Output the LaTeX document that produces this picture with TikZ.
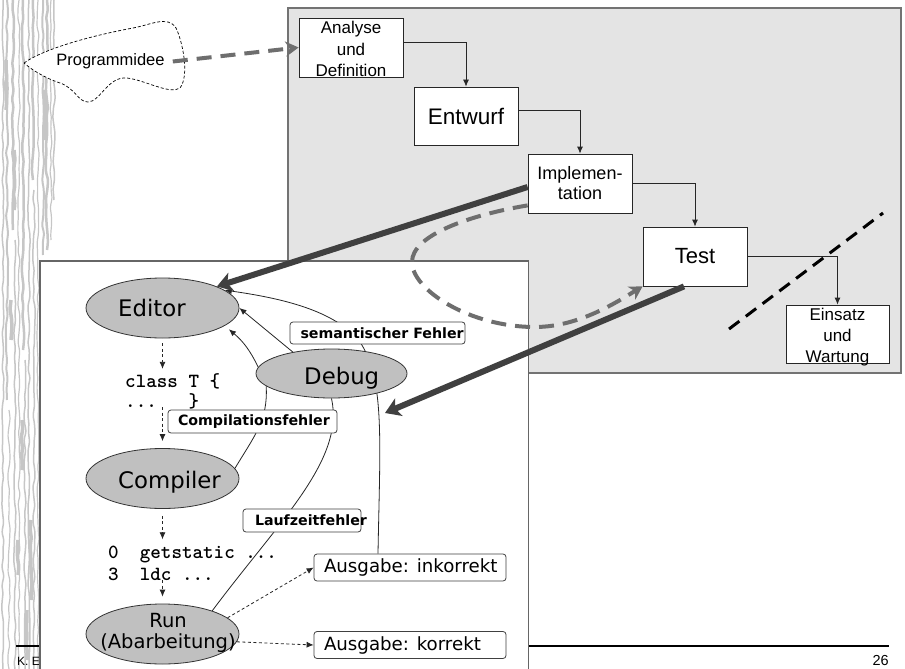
\documentclass[tikz,border=0pt]{standalone}
\usepackage{fontspec}
\setmainfont{Liberation Sans}
\newfontfamily\dvfont{DejaVu Sans}
\newfontfamily\codefont{lmmonolt10-bold.otf}
\usetikzlibrary{arrows.meta,shapes.geometric,decorations.pathmorphing}
\pgfdeclarelayer{back}
\pgfdeclarelayer{edges}
\pgfsetlayers{back,edges,main}

\definecolor{panelgray}{HTML}{E4E4E4}
\definecolor{ellgray}{HTML}{C0C0C0}
\definecolor{thickgray}{HTML}{404040}
\definecolor{dashgray}{HTML}{6E6E6E}
\definecolor{woodgray}{HTML}{C6C6C6}

% fixed-width box, text set flush left after a small indent
\newcommand\padbox[3]{\makebox[#1][l]{\hspace{#2}#3}}

\begin{document}
\begin{tikzpicture}[x=1pt, y=-1pt,
  phasebox/.style={draw=black!85, fill=white, line width=0.8pt, inner sep=0pt, align=center},
  phasetext/.style={inner sep=0pt, align=center},
  flow/.style={draw=black!85, line width=0.8pt, -{Latex[length=7pt,width=6pt]}},
  dflow/.style={draw=black!85, line width=0.8pt, dash pattern=on 3pt off 2.5pt, -{Latex[length=7pt,width=6pt]}},
  thin link/.style={draw=black!85, line width=0.8pt},
  thin arrow/.style={draw=black!85, line width=0.8pt, -{Latex[length=7pt,width=6pt]}},
  bigarrow/.style={draw=thickgray, line width=6pt, -{Stealth[length=15pt,width=19pt,inset=4pt]}},
  grayflow/.style={draw=dashgray, line width=4pt, dash pattern=on 15pt off 9pt, -{Stealth[length=13pt,width=15pt,inset=4pt]}},
  cutline/.style={draw=black, line width=3pt, dash pattern=on 13pt off 8pt},
  cloudline/.style={draw=black, fill=white, line width=0.7pt, dash pattern=on 3pt off 2pt},
  procell/.style={ellipse, draw=black!80, fill=ellgray, line width=0.8pt, inner sep=0pt},
  celltext/.style={inner sep=0pt, font=\dvfont\fontsize{22.8}{26}\selectfont},
  code/.style={inner sep=0pt, anchor=base west, font=\codefont\fontsize{20.1}{22}\selectfont},
  errlabel/.style={draw=black!75, fill=white, rounded corners=3pt, line width=0.8pt, inner sep=0pt, font=\dvfont\bfseries\fontsize{14.2}{16}\selectfont},
  outbox/.style={draw=black!75, fill=white, rounded corners=3pt, line width=0.8pt, inner sep=0pt, minimum height=27pt, font=\dvfont\fontsize{18.2}{21}\selectfont},
  grain/.style={draw=woodgray, decorate, decoration={random steps, segment length=9pt, amplitude=1.2pt}, rounded corners=2.5pt}
]
\useasboundingbox (0,0) rectangle (905,669);

% ---------- background: wood strip, footer, panels ----------
\begin{pgfonlayer}{back}
  \pgfmathsetseed{11}
  \foreach \x/\w/\a/\b in {3/1.5/0/669, 7/2/0/400, 9/1.2/410/669, 13/2.5/0/230, 15/1.5/240/669,
      19/1.2/0/669, 23/2.5/0/350, 25/1.5/360/669, 29/1.5/0/669, 33/2.5/0/180, 34/1.5/190/669,
      38/1.2/0/669, 43/2/0/255, 47/2.5/0/250, 51/1.2/0/240, 54/1.5/0/200} {
    \draw[grain, line width=\w pt] (\x,\a) -- (\x,\b);
  }
  \foreach \x/\a/\b in {6/60/110, 14/150/210, 22/420/470, 31/520/600, 11/300/340, 45/90/140, 27/610/660, 18/540/575} {
    \draw[grain, line width=3.5pt] (\x,\a) -- (\x,\b);
  }

  \draw[line width=1.6pt] (16,646) coordinate (footL) -- (889,646) coordinate (footR);
  \node[anchor=base west, inner sep=0pt, font=\fontsize{12}{14}\selectfont] (author) at (17,665) {K. E};
  \node[anchor=base east, inner sep=0pt, font=\fontsize{14.5}{17}\selectfont] (pageno) at (889,665) {26};

  \draw[draw=black!55, fill=panelgray, line width=1.5pt] (288,8) rectangle (901,373);
  \fill[white] (40,261) rectangle (528.5,669);
  \draw[black!60, line width=1.2pt] (40,669) -- (40,261) -- (528.5,261) -- (528.5,669);
\end{pgfonlayer}

% ---------- the idea cloud ----------
\draw[cloudline] (24,63) .. controls (45,48) and (95,35) .. (133,28)
  .. controls (150,25) and (168,15) .. (176,28)
  .. controls (182,40) and (190,75) .. (180,88)
  .. controls (170,95) and (145,80) .. (127,78)
  .. controls (108,76) and (100,102) .. (88,102)
  .. controls (78,102) and (75,88) .. (60,83)
  .. controls (45,78) and (32,70) .. cycle;
\node[inner sep=0pt, font=\fontsize{16.5}{19}\selectfont] (idea) at (110.5,61.5) {Programmidee};

% ---------- phase boxes ----------
\node[phasebox, minimum width=104pt, minimum height=59pt] (ana) at (351,47.5) {};
\node[phasetext, font=\fontsize{17}{21.5}\selectfont] (anaT) at ([yshift=-1.5pt]ana.center) {Analyse\\und\\Definition};
\node[phasebox, minimum width=104pt, minimum height=58pt, font=\fontsize{22.5}{26}\selectfont] (ent) at (466,116) {Entwurf};
\node[phasebox, minimum width=104pt, minimum height=59pt, font=\fontsize{18}{20}\selectfont] (impl) at (580,183.5) {Implemen-\\tation};
\node[phasebox, minimum width=104pt, minimum height=59pt, font=\fontsize{22}{26}\selectfont] (test) at (695,256.5) {Test};
\node[phasebox, minimum width=103pt, minimum height=58pt] (ein) at (837.5,334) {};
\node[phasetext, font=\fontsize{17}{21}\selectfont] (einT) at ([yshift=-3.5pt]ein.center) {Einsatz\\und\\Wartung};

\draw[flow] ([yshift=5.5pt]ana.east) -| (ent.north);
\draw[flow] ([yshift=6pt]ent.east) -| (impl.north);
\draw[flow] (impl.east) -| (test.north);
\draw[flow] (test.east) -| (ein.north);

\coordinate (cutA) at (729,329);
\coordinate (cutB) at (883,213);
\draw[cutline] (cutA) -- (cutB);

% ---------- edit / compile / run cycle ----------
\node[procell, minimum width=153pt, minimum height=60pt] (editor) at (162.5,308) {};
\node[celltext, anchor=base west] (editorT) at (118,316.5) {Editor};
\node[procell, minimum width=153pt, minimum height=60pt] (comp) at (162.5,478.5) {};
\node[celltext, anchor=base west] (compT) at (118,488) {Compiler};
\node[procell, minimum width=153pt, minimum height=60pt] (run) at (162.5,634) {};
\node[celltext, align=center, font=\dvfont\fontsize{19.5}{21}\selectfont] (runT) at (168,632.5) {Run\\(Abarbeitung)};
\node[procell, minimum width=151pt, minimum height=49pt] (debug) at (331.5,373.5) {};
\node[celltext, anchor=base west] (debugT) at (304,384) {Debug};

\node[code] (code1a) at (125,387) {class T \{};
\node[code] (code1b) at (125,407) {...\ \ \ \}};
\node[code] (code2a) at (108,558) {0\ \ getstatic ...};
\node[code] (code2b) at (108,580) {3\ \ ldc ...};

\node[outbox] (ausgI) at (410,567.5) {\padbox{192pt}{10pt}{Ausgabe: inkorrekt}};
\node[outbox] (ausgK) at (410,645) {\padbox{192pt}{10pt}{Ausgabe: korrekt}};

\node[errlabel, minimum height=22pt] (semErr) at (377.5,333) {\padbox{175pt}{10.5pt}{semantischer Fehler}};
\node[errlabel, minimum height=23pt] (compErr) at (252.5,421.5) {\padbox{169pt}{10pt}{Compilationsfehler}};
\node[errlabel, minimum height=23pt] (runErr) at (302,520.5) {\padbox{118pt}{12pt}{Laufzeitfehler}};

% products passed from step to step
\draw[dflow, shorten <=5pt, shorten >=4pt] (editor.south) -- (editor.south |- code1a.north);
\draw[dflow, shorten >=7pt] (comp.north |- code1b.base) -- (comp.north);
\draw[dflow, shorten <=7pt, shorten >=6pt] (comp.south) -- (comp.south |- code2a.north);
\draw[dflow, shorten >=7pt] (run.north |- code2b.base) -- (run.north);
\draw[dflow] (run.14) -- (ausgI.west);
\draw[dflow] (run.-6) -- (ausgK.west);

% error paths back through the debugger
\begin{pgfonlayer}{edges}
  \draw[thin link] (run.25) .. controls (280,520) and (345,460) .. (debug.south);
  \draw[thin link] (comp.8) .. controls (255,435) and (268,420) .. (debug.191);
  \draw[thin arrow] ([xshift=-32pt]ausgI.north) .. controls (380,440) and (385,380) .. (360,342)
      .. controls (335,310) and (280,298) .. (editor.16);
  \draw[thin arrow] (debug.175) to[bend right=12] ([shift={(7,2)}]editor.-18);
  \draw[thin arrow] (debug.151) -- (editor.east);
\end{pgfonlayer}

% ---------- links between the process and the cycle ----------
\draw[grayflow] ([xshift=8pt]idea.east) -- (ana.west);
\draw[grayflow] ([yshift=8pt]impl.south west) .. controls (470,215) and (412,235) .. (412,262)
   .. controls (412,290) and (470,327) .. (535,327)
   .. controls (580,327) and (620,300) .. (test.south west);
\coordinate (cycleIn) at (385,413);
\draw[bigarrow] ([yshift=-3.5pt]impl.west) -- (editor.north east);
\draw[bigarrow] ([xshift=-11pt]test.south) -- (cycleIn);

\end{tikzpicture}
\end{document}
